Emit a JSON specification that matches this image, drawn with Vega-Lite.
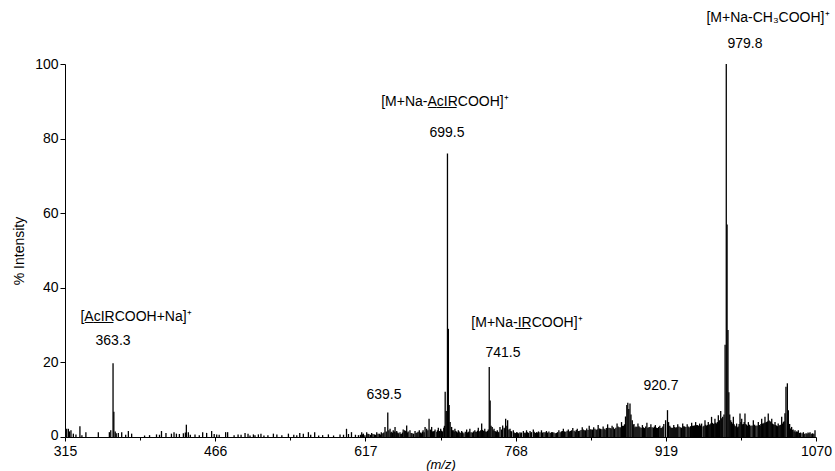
{
  "$schema": "https://vega.github.io/schema/vega-lite/v6.json",
  "width": 751,
  "height": 373,
  "autosize": {"type": "none"},
  "padding": {"left": 65, "top": 64, "right": 19, "bottom": 34},
  "background": "white",
  "config": {
    "view": {"stroke": null},
    "font": "Liberation Sans",
    "axis": {"grid": false, "domainColor": "black", "tickColor": "black", "labelColor": "black", "titleColor": "black", "labelFont": "Liberation Sans", "titleFont": "Liberation Sans", "titleFontWeight": "normal", "labelFontSize": 14, "titleFontSize": 14}
  },
  "layer": [
    {
      "data": {"values": [
        {"mz": 316.7, "intensity": 2.2}, {"mz": 318.4, "intensity": 2.2}, {"mz": 319.5, "intensity": 1.5}, {"mz": 321, "intensity": 1.8}, {"mz": 323.4, "intensity": 0.9}, {"mz": 326, "intensity": 0.7}, {"mz": 330, "intensity": 2.9}, {"mz": 332, "intensity": 0.5}, {"mz": 336, "intensity": 1.3}, {"mz": 348.5, "intensity": 1.3}, {"mz": 359.6, "intensity": 1.3}, {"mz": 361, "intensity": 1.8}, {"mz": 363.3, "intensity": 19.8}, {"mz": 364.1, "intensity": 6.8}, {"mz": 365.5, "intensity": 1.5}, {"mz": 366.5, "intensity": 1.0}, {"mz": 368.6, "intensity": 1.1}, {"mz": 372, "intensity": 1.3}, {"mz": 376, "intensity": 0.6}, {"mz": 378.7, "intensity": 1.6}, {"mz": 382, "intensity": 0.9}, {"mz": 395, "intensity": 0.4}, {"mz": 400, "intensity": 0.5}, {"mz": 407, "intensity": 0.7}, {"mz": 410, "intensity": 0.6}, {"mz": 412, "intensity": 1.6}, {"mz": 416.5, "intensity": 1.1}, {"mz": 422, "intensity": 0.9}, {"mz": 424.6, "intensity": 1.3}, {"mz": 427, "intensity": 0.9}, {"mz": 430, "intensity": 0.8}, {"mz": 434, "intensity": 1.0}, {"mz": 436, "intensity": 1.2}, {"mz": 437, "intensity": 3.3}, {"mz": 439, "intensity": 1.3}, {"mz": 441, "intensity": 0.6}, {"mz": 445.7, "intensity": 0.7}, {"mz": 450, "intensity": 0.5}, {"mz": 453.4, "intensity": 1.3}, {"mz": 457.4, "intensity": 1.1}, {"mz": 462.4, "intensity": 1.6}, {"mz": 465, "intensity": 0.8}, {"mz": 467.5, "intensity": 0.7}, {"mz": 470, "intensity": 0.6}, {"mz": 476.5, "intensity": 1.3}, {"mz": 478.5, "intensity": 1.3}, {"mz": 485, "intensity": 0.5}, {"mz": 489, "intensity": 0.7}, {"mz": 492, "intensity": 0.6}, {"mz": 496, "intensity": 1.1}, {"mz": 499, "intensity": 0.9},
        {"mz": 501, "intensity": 0.4}, {"mz": 504.4, "intensity": 0.7}, {"mz": 506, "intensity": 0.5}, {"mz": 509.4, "intensity": 0.7}, {"mz": 512, "intensity": 0.9}, {"mz": 515, "intensity": 0.4}, {"mz": 519, "intensity": 0.5}, {"mz": 524.5, "intensity": 0.9}, {"mz": 528, "intensity": 0.7}, {"mz": 533, "intensity": 0.5}, {"mz": 539.6, "intensity": 0.9}, {"mz": 545, "intensity": 0.6}, {"mz": 548, "intensity": 0.5}, {"mz": 551, "intensity": 1.1}, {"mz": 554.6, "intensity": 0.9}, {"mz": 559.7, "intensity": 1.3}, {"mz": 562, "intensity": 0.6}, {"mz": 566, "intensity": 1.3}, {"mz": 570, "intensity": 0.4}, {"mz": 574, "intensity": 0.5}, {"mz": 579.8, "intensity": 0.7}, {"mz": 585, "intensity": 0.4}, {"mz": 591.5, "intensity": 0.7}, {"mz": 595, "intensity": 0.6}, {"mz": 598, "intensity": 2.2}, {"mz": 600, "intensity": 0.8}, {"mz": 603, "intensity": 1.3}, {"mz": 607, "intensity": 0.6}, {"mz": 610, "intensity": 0.5},
        {"mz": 613.3, "intensity": 1.3}, {"mz": 615, "intensity": 0.9}, {"mz": 618.3, "intensity": 1.3}, {"mz": 620.5, "intensity": 0.8}, {"mz": 623.3, "intensity": 1.1}, {"mz": 626, "intensity": 0.7}, {"mz": 628.4, "intensity": 1.3}, {"mz": 631, "intensity": 0.9}, {"mz": 633, "intensity": 1.3}, {"mz": 634.5, "intensity": 1.0}, {"mz": 636.7, "intensity": 2.7}, {"mz": 639.5, "intensity": 6.6}, {"mz": 641.8, "intensity": 2.2}, {"mz": 643.5, "intensity": 1.4}, {"mz": 645, "intensity": 1.8}, {"mz": 646.8, "intensity": 2.7}, {"mz": 648.5, "intensity": 1.6}, {"mz": 650.5, "intensity": 1.0}, {"mz": 651.8, "intensity": 1.3}, {"mz": 653.5, "intensity": 0.9}, {"mz": 655, "intensity": 2.0}, {"mz": 656.5, "intensity": 1.8}, {"mz": 658.5, "intensity": 3.1}, {"mz": 660, "intensity": 1.5}, {"mz": 661.8, "intensity": 1.8}, {"mz": 664, "intensity": 1.0}, {"mz": 666.9, "intensity": 1.6}, {"mz": 669, "intensity": 1.2}, {"mz": 671.2, "intensity": 1.8}, {"mz": 673.5, "intensity": 1.0}, {"mz": 675, "intensity": 1.8}, {"mz": 677, "intensity": 2.7}, {"mz": 678.6, "intensity": 2.2}, {"mz": 681, "intensity": 4.9}, {"mz": 683.6, "intensity": 2.7}, {"mz": 685.5, "intensity": 1.5}, {"mz": 687, "intensity": 2.0}, {"mz": 688.8, "intensity": 1.4}, {"mz": 690.3, "intensity": 2.5}, {"mz": 692.7, "intensity": 2.2}, {"mz": 694.5, "intensity": 1.5}, {"mz": 695.8, "intensity": 2.5}, {"mz": 697.2, "intensity": 12.1}, {"mz": 698.3, "intensity": 7.0}, {"mz": 699.5, "intensity": 76}, {"mz": 700.4, "intensity": 29}, {"mz": 701.2, "intensity": 8.6}, {"mz": 702.2, "intensity": 4.0}, {"mz": 703.7, "intensity": 2.7}, {"mz": 705.3, "intensity": 1.8}, {"mz": 707, "intensity": 2.2}, {"mz": 708.7, "intensity": 1.4}, {"mz": 710.4, "intensity": 1.8}, {"mz": 712, "intensity": 1.2}, {"mz": 713.8, "intensity": 1.6}, {"mz": 716, "intensity": 1.0}, {"mz": 718.8, "intensity": 2.0}, {"mz": 720.5, "intensity": 1.3}, {"mz": 722, "intensity": 2.2}, {"mz": 724.5, "intensity": 1.2}, {"mz": 727, "intensity": 1.8}, {"mz": 729, "intensity": 1.4}, {"mz": 730.5, "intensity": 2.5}, {"mz": 732.3, "intensity": 1.6}, {"mz": 733.9, "intensity": 3.6}, {"mz": 735.5, "intensity": 1.7}, {"mz": 737, "intensity": 2.2}, {"mz": 739, "intensity": 1.4}, {"mz": 740.5, "intensity": 2.0}, {"mz": 741.5, "intensity": 18.8}, {"mz": 742.4, "intensity": 9.8}, {"mz": 743.3, "intensity": 3.0}, {"mz": 744.5, "intensity": 2.7}, {"mz": 746.3, "intensity": 2.2}, {"mz": 748, "intensity": 1.5}, {"mz": 749.6, "intensity": 1.8}, {"mz": 751, "intensity": 1.3}, {"mz": 752.3, "intensity": 2.7}, {"mz": 753.8, "intensity": 2.0}, {"mz": 755, "intensity": 3.1}, {"mz": 756.5, "intensity": 2.5}, {"mz": 758, "intensity": 4.9}, {"mz": 759.2, "intensity": 3.0}, {"mz": 760, "intensity": 4.5}, {"mz": 761.3, "intensity": 2.0}, {"mz": 762.4, "intensity": 2.2}, {"mz": 764, "intensity": 1.5}, {"mz": 765.7, "intensity": 1.8}, {"mz": 767.5, "intensity": 1.0}, {"mz": 769, "intensity": 1.3}, {"mz": 771, "intensity": 1.0}, {"mz": 772.4, "intensity": 1.3}, {"mz": 774, "intensity": 1.2}, {"mz": 775.8, "intensity": 1.6}, {"mz": 777.5, "intensity": 1.2}, {"mz": 779, "intensity": 1.8}, {"mz": 781, "intensity": 1.1}, {"mz": 782.5, "intensity": 1.6}, {"mz": 784, "intensity": 1.3}, {"mz": 785.8, "intensity": 2.0}, {"mz": 787.5, "intensity": 1.1}, {"mz": 789, "intensity": 1.3}, {"mz": 791, "intensity": 1.5}, {"mz": 794, "intensity": 1.8}, {"mz": 796.5, "intensity": 1.3}, {"mz": 799, "intensity": 1.6}, {"mz": 801.5, "intensity": 1.5}, {"mz": 804, "intensity": 1.3}, {"mz": 806.5, "intensity": 1.2}, {"mz": 809, "intensity": 1.1},
        {"mz": 612, "intensity": 0.6}, {"mz": 614.2, "intensity": 0.7}, {"mz": 616.5, "intensity": 0.5}, {"mz": 619.5, "intensity": 0.9}, {"mz": 622, "intensity": 0.6}, {"mz": 624.6, "intensity": 0.8}, {"mz": 627.2, "intensity": 0.6}, {"mz": 629.7, "intensity": 0.9}, {"mz": 632, "intensity": 0.7}, {"mz": 635.5, "intensity": 1.2}, {"mz": 638, "intensity": 1.5}, {"mz": 640.6, "intensity": 1.8}, {"mz": 642.6, "intensity": 1.2}, {"mz": 644.2, "intensity": 1.1}, {"mz": 646, "intensity": 1.5}, {"mz": 647.7, "intensity": 1.3}, {"mz": 649.5, "intensity": 1.2}, {"mz": 652.6, "intensity": 0.8}, {"mz": 654.3, "intensity": 1.2}, {"mz": 657.5, "intensity": 1.6}, {"mz": 659.3, "intensity": 1.2}, {"mz": 663, "intensity": 1.1}, {"mz": 665.5, "intensity": 0.9}, {"mz": 668, "intensity": 1.1}, {"mz": 670, "intensity": 1.4}, {"mz": 672.4, "intensity": 1.2}, {"mz": 674.3, "intensity": 1.4}, {"mz": 676, "intensity": 1.3}, {"mz": 679.8, "intensity": 1.8}, {"mz": 682.3, "intensity": 2.0}, {"mz": 684.6, "intensity": 1.5}, {"mz": 686.2, "intensity": 1.6}, {"mz": 689.5, "intensity": 1.8}, {"mz": 691.5, "intensity": 1.6}, {"mz": 693.6, "intensity": 1.7}, {"mz": 696.5, "intensity": 3.0},
        {"mz": 704.5, "intensity": 1.8}, {"mz": 706.2, "intensity": 1.4}, {"mz": 707.9, "intensity": 1.6}, {"mz": 709.5, "intensity": 1.2}, {"mz": 711.2, "intensity": 1.5}, {"mz": 713, "intensity": 1.1}, {"mz": 714.8, "intensity": 1.3}, {"mz": 717.4, "intensity": 1.4}, {"mz": 719.7, "intensity": 1.2}, {"mz": 721.2, "intensity": 1.5}, {"mz": 723.2, "intensity": 1.3}, {"mz": 725.7, "intensity": 1.5}, {"mz": 728, "intensity": 1.4}, {"mz": 729.8, "intensity": 1.7}, {"mz": 731.4, "intensity": 1.5}, {"mz": 733, "intensity": 1.8}, {"mz": 734.7, "intensity": 1.9}, {"mz": 736.2, "intensity": 1.6}, {"mz": 738, "intensity": 1.5}, {"mz": 739.8, "intensity": 1.6}, {"mz": 745.4, "intensity": 1.8}, {"mz": 747.2, "intensity": 1.6}, {"mz": 748.8, "intensity": 1.4}, {"mz": 750.3, "intensity": 1.4}, {"mz": 754.4, "intensity": 1.8}, {"mz": 757.2, "intensity": 2.2}, {"mz": 763.2, "intensity": 1.6}, {"mz": 766.6, "intensity": 1.2}, {"mz": 768.2, "intensity": 1.1}, {"mz": 770, "intensity": 1.2}, {"mz": 773.2, "intensity": 1.0}, {"mz": 776.6, "intensity": 1.1}, {"mz": 778.2, "intensity": 1.0}, {"mz": 780, "intensity": 1.3}, {"mz": 783.3, "intensity": 1.2}, {"mz": 786.7, "intensity": 1.4}, {"mz": 788.2, "intensity": 1.1}, {"mz": 790, "intensity": 1.2}, {"mz": 792.5, "intensity": 1.3}, {"mz": 795.2, "intensity": 1.2}, {"mz": 797.8, "intensity": 1.3}, {"mz": 800.2, "intensity": 1.2}, {"mz": 802.8, "intensity": 1.1}, {"mz": 805.2, "intensity": 1.3}, {"mz": 807.8, "intensity": 1.0}, {"mz": 810.2, "intensity": 1.3},
        {"mz": 811.5, "intensity": 1.8}, {"mz": 814, "intensity": 1.5}, {"mz": 816, "intensity": 2.2}, {"mz": 818.5, "intensity": 1.4}, {"mz": 821, "intensity": 2.0}, {"mz": 823, "intensity": 1.6}, {"mz": 825.5, "intensity": 2.4}, {"mz": 828, "intensity": 1.5}, {"mz": 830, "intensity": 2.2}, {"mz": 832.5, "intensity": 1.7}, {"mz": 835, "intensity": 2.6}, {"mz": 837, "intensity": 1.8}, {"mz": 839.5, "intensity": 2.3}, {"mz": 842, "intensity": 3.0}, {"mz": 844, "intensity": 2.0}, {"mz": 846.5, "intensity": 2.6}, {"mz": 849, "intensity": 1.9}, {"mz": 851, "intensity": 3.2}, {"mz": 853.5, "intensity": 2.2}, {"mz": 856, "intensity": 2.8}, {"mz": 858, "intensity": 2.0}, {"mz": 860.5, "intensity": 3.4}, {"mz": 863, "intensity": 2.4}, {"mz": 865, "intensity": 3.0}, {"mz": 867.5, "intensity": 2.2}, {"mz": 870, "intensity": 3.6}, {"mz": 872, "intensity": 2.6}, {"mz": 874.5, "intensity": 4.0}, {"mz": 876.5, "intensity": 3.0}, {"mz": 878.5, "intensity": 5.5}, {"mz": 879.8, "intensity": 8.6}, {"mz": 880.8, "intensity": 9.2}, {"mz": 881.8, "intensity": 7.5}, {"mz": 883, "intensity": 9.0}, {"mz": 884, "intensity": 6.0}, {"mz": 885.3, "intensity": 4.5}, {"mz": 887, "intensity": 3.5}, {"mz": 889, "intensity": 2.8}, {"mz": 891, "intensity": 3.6}, {"mz": 893, "intensity": 2.6}, {"mz": 895.5, "intensity": 3.2}, {"mz": 897.5, "intensity": 2.4}, {"mz": 900, "intensity": 3.8}, {"mz": 902, "intensity": 2.6}, {"mz": 904, "intensity": 3.4}, {"mz": 906.5, "intensity": 2.5}, {"mz": 908.5, "intensity": 3.2}, {"mz": 910.5, "intensity": 2.4}, {"mz": 913, "intensity": 3.0}, {"mz": 915, "intensity": 2.5}, {"mz": 917, "intensity": 3.5}, {"mz": 918.8, "intensity": 4.5}, {"mz": 920.7, "intensity": 7.2}, {"mz": 921.8, "intensity": 4.0}, {"mz": 923, "intensity": 3.0}, {"mz": 925, "intensity": 2.4}, {"mz": 927, "intensity": 3.2}, {"mz": 929, "intensity": 2.5}, {"mz": 931, "intensity": 3.4}, {"mz": 933.5, "intensity": 2.6}, {"mz": 936, "intensity": 3.6}, {"mz": 938, "intensity": 2.8}, {"mz": 940.5, "intensity": 3.4}, {"mz": 942.5, "intensity": 2.6}, {"mz": 945, "intensity": 3.8}, {"mz": 947, "intensity": 3.0}, {"mz": 949, "intensity": 4.0}, {"mz": 951, "intensity": 3.2}, {"mz": 953, "intensity": 3.6},
        {"mz": 812.8, "intensity": 1.3}, {"mz": 815, "intensity": 1.6}, {"mz": 817.2, "intensity": 1.5}, {"mz": 819.8, "intensity": 1.7}, {"mz": 822, "intensity": 1.5}, {"mz": 824.2, "intensity": 1.8}, {"mz": 826.8, "intensity": 1.7}, {"mz": 829, "intensity": 1.9}, {"mz": 831.2, "intensity": 1.6}, {"mz": 833.8, "intensity": 1.9}, {"mz": 836, "intensity": 2.0}, {"mz": 838.2, "intensity": 1.8}, {"mz": 840.8, "intensity": 1.9}, {"mz": 843, "intensity": 2.1}, {"mz": 845.2, "intensity": 2.0}, {"mz": 847.8, "intensity": 2.2}, {"mz": 850, "intensity": 2.1}, {"mz": 852.2, "intensity": 2.3}, {"mz": 854.8, "intensity": 2.1}, {"mz": 857, "intensity": 2.2}, {"mz": 859.2, "intensity": 2.4}, {"mz": 861.8, "intensity": 2.5}, {"mz": 864, "intensity": 2.3}, {"mz": 866.2, "intensity": 2.6}, {"mz": 868.8, "intensity": 2.5}, {"mz": 871, "intensity": 2.8}, {"mz": 873.2, "intensity": 2.6}, {"mz": 875.5, "intensity": 3.0}, {"mz": 877.5, "intensity": 3.4}, {"mz": 886.2, "intensity": 3.3}, {"mz": 888, "intensity": 2.6}, {"mz": 890, "intensity": 2.7}, {"mz": 892, "intensity": 2.9}, {"mz": 894.2, "intensity": 2.5}, {"mz": 896.5, "intensity": 2.6}, {"mz": 898.8, "intensity": 2.8}, {"mz": 901, "intensity": 2.5}, {"mz": 903, "intensity": 2.7}, {"mz": 905.2, "intensity": 2.6}, {"mz": 907.5, "intensity": 2.8}, {"mz": 909.5, "intensity": 2.5}, {"mz": 911.8, "intensity": 2.7}, {"mz": 914, "intensity": 2.4}, {"mz": 916, "intensity": 2.8}, {"mz": 924, "intensity": 2.6}, {"mz": 926, "intensity": 2.5}, {"mz": 928, "intensity": 2.7}, {"mz": 930, "intensity": 2.6}, {"mz": 932.2, "intensity": 2.8}, {"mz": 934.8, "intensity": 2.5}, {"mz": 937, "intensity": 2.9}, {"mz": 939.2, "intensity": 2.7}, {"mz": 941.5, "intensity": 2.8}, {"mz": 943.8, "intensity": 2.9}, {"mz": 946, "intensity": 3.0}, {"mz": 948, "intensity": 3.1}, {"mz": 950, "intensity": 3.2}, {"mz": 952, "intensity": 3.0}, {"mz": 954, "intensity": 3.1},
        {"mz": 955, "intensity": 3.6}, {"mz": 956.5, "intensity": 2.8}, {"mz": 958.4, "intensity": 4.5}, {"mz": 960, "intensity": 3.0}, {"mz": 961.7, "intensity": 4.0}, {"mz": 963.3, "intensity": 3.2}, {"mz": 965, "intensity": 5.4}, {"mz": 966.8, "intensity": 3.5}, {"mz": 968.4, "intensity": 4.9}, {"mz": 970, "intensity": 3.6}, {"mz": 971.8, "intensity": 5.8}, {"mz": 973, "intensity": 4.5}, {"mz": 974.2, "intensity": 7.0}, {"mz": 975.2, "intensity": 5.0}, {"mz": 976.2, "intensity": 5.4}, {"mz": 977.5, "intensity": 6.0}, {"mz": 978.6, "intensity": 24.7}, {"mz": 979.8, "intensity": 100}, {"mz": 980.6, "intensity": 57}, {"mz": 981.5, "intensity": 28.7}, {"mz": 982.4, "intensity": 12}, {"mz": 983.3, "intensity": 6}, {"mz": 984.3, "intensity": 4.5}, {"mz": 985.2, "intensity": 4.0}, {"mz": 986.9, "intensity": 5.4}, {"mz": 988.5, "intensity": 3.0}, {"mz": 990.2, "intensity": 3.6}, {"mz": 991.8, "intensity": 2.8}, {"mz": 993.6, "intensity": 6.3}, {"mz": 995.3, "intensity": 4.9}, {"mz": 997, "intensity": 3.5}, {"mz": 998.6, "intensity": 6.3}, {"mz": 1000.3, "intensity": 3.2}, {"mz": 1002, "intensity": 4.0}, {"mz": 1004.5, "intensity": 3.0}, {"mz": 1007, "intensity": 4.5}, {"mz": 1009.5, "intensity": 3.0}, {"mz": 1012, "intensity": 4.0}, {"mz": 1013.8, "intensity": 3.0}, {"mz": 1015.4, "intensity": 4.9}, {"mz": 1017, "intensity": 3.6}, {"mz": 1018.7, "intensity": 5.4}, {"mz": 1020.3, "intensity": 4.0}, {"mz": 1022, "intensity": 6.3}, {"mz": 1023.8, "intensity": 4.2}, {"mz": 1025.5, "intensity": 4.9}, {"mz": 1027, "intensity": 3.4}, {"mz": 1028.8, "intensity": 4.0}, {"mz": 1030.4, "intensity": 3.0}, {"mz": 1032, "intensity": 3.6}, {"mz": 1033.8, "intensity": 3.2}, {"mz": 1035.5, "intensity": 5.4}, {"mz": 1037.2, "intensity": 4.0}, {"mz": 1038.8, "intensity": 6.4}, {"mz": 1039.8, "intensity": 13.5}, {"mz": 1041.2, "intensity": 14.4}, {"mz": 1042.2, "intensity": 7.2}, {"mz": 1043.5, "intensity": 3.5}, {"mz": 1045.5, "intensity": 2.7}, {"mz": 1047, "intensity": 2.0}, {"mz": 1048.9, "intensity": 1.8}, {"mz": 1050.5, "intensity": 1.5}, {"mz": 1052.2, "intensity": 1.8}, {"mz": 1054.5, "intensity": 1.2}, {"mz": 1057.3, "intensity": 1.3}, {"mz": 1060, "intensity": 1.0}, {"mz": 1062, "intensity": 1.2}, {"mz": 1064, "intensity": 1.3}, {"mz": 1066.5, "intensity": 1.0}, {"mz": 1069, "intensity": 1.8},
        {"mz": 957.4, "intensity": 3.0}, {"mz": 959.2, "intensity": 3.3}, {"mz": 960.9, "intensity": 3.2}, {"mz": 962.5, "intensity": 3.4}, {"mz": 964.2, "intensity": 3.6}, {"mz": 965.9, "intensity": 3.8}, {"mz": 967.6, "intensity": 3.6}, {"mz": 969.2, "intensity": 3.8}, {"mz": 970.9, "intensity": 4.0}, {"mz": 972.4, "intensity": 4.2}, {"mz": 984.8, "intensity": 3.5}, {"mz": 986, "intensity": 3.6}, {"mz": 987.7, "intensity": 3.4}, {"mz": 989.4, "intensity": 2.8}, {"mz": 991, "intensity": 2.6}, {"mz": 992.7, "intensity": 3.5}, {"mz": 994.5, "intensity": 4.0}, {"mz": 996.2, "intensity": 3.4}, {"mz": 997.8, "intensity": 4.0}, {"mz": 999.5, "intensity": 3.5}, {"mz": 1001.2, "intensity": 3.0}, {"mz": 1003.2, "intensity": 3.3}, {"mz": 1005.8, "intensity": 3.1}, {"mz": 1008.3, "intensity": 3.3}, {"mz": 1010.8, "intensity": 3.1}, {"mz": 1013, "intensity": 3.2}, {"mz": 1014.6, "intensity": 3.5}, {"mz": 1016.2, "intensity": 3.6}, {"mz": 1017.9, "intensity": 3.8}, {"mz": 1019.5, "intensity": 3.9}, {"mz": 1021.2, "intensity": 4.2}, {"mz": 1022.9, "intensity": 4.4}, {"mz": 1024.6, "intensity": 4.0}, {"mz": 1026.2, "intensity": 3.6}, {"mz": 1027.9, "intensity": 3.3}, {"mz": 1029.6, "intensity": 3.2}, {"mz": 1031.2, "intensity": 2.9}, {"mz": 1032.9, "intensity": 3.0}, {"mz": 1034.6, "intensity": 3.3}, {"mz": 1036.4, "intensity": 3.6}, {"mz": 1038, "intensity": 4.2}, {"mz": 1044.5, "intensity": 2.3}, {"mz": 1046.2, "intensity": 1.9}, {"mz": 1048, "intensity": 1.5}, {"mz": 1049.7, "intensity": 1.3}, {"mz": 1051.3, "intensity": 1.4}, {"mz": 1053.3, "intensity": 1.1}, {"mz": 1056, "intensity": 1.0}, {"mz": 1058.7, "intensity": 0.9}, {"mz": 1061, "intensity": 0.9}, {"mz": 1063, "intensity": 1.0}, {"mz": 1065.2, "intensity": 0.9}, {"mz": 1067.8, "intensity": 0.9}
      ]},
      "mark": {"type": "rule", "color": "black", "strokeWidth": 1.3},
      "encoding": {
        "x": {
          "field": "mz", "type": "quantitative",
          "scale": {"domain": [315, 1070], "nice": false, "zero": false},
          "axis": {
            "title": "(m/z)", "titleFontStyle": "italic", "titleFontSize": 13, "titlePadding": 0,
            "values": [315, 390.5, 466, 541.5, 617, 692.5, 768, 843.5, 919, 994.5, 1070],
            "format": "d",
            "labelExpr": "indexof([315,466,617,768,919,1070], datum.value) >= 0 ? datum.label : ''",
            "labelFlush": false, "labelOverlap": false, "labelPadding": 3,
            "tickSize": {"condition": {"test": "indexof([315,466,617,768,919,1070], datum.value) >= 0", "value": 4}, "value": 3}
          }
        },
        "y": {
          "field": "intensity", "type": "quantitative",
          "scale": {"domain": [0, 100], "nice": false},
          "axis": {
            "title": "% Intensity", "titlePadding": 8,
            "values": [0, 5, 10, 15, 20, 25, 30, 35, 40, 45, 50, 55, 60, 65, 70, 75, 80, 85, 90, 95, 100],
            "labelExpr": "datum.value % 20 === 0 ? datum.label : ''",
            "labelOverlap": false, "labelPadding": 2,
            "labelOffset": {"condition": {"test": "datum.value === 0", "value": -2}, "value": 0},
            "tickSize": {"condition": {"test": "datum.value % 20 === 0", "value": 5}, "value": 3}
          }
        },
        "y2": {"datum": 0}
      }
    },
    {
      "data": {"values": [
        {"label": "[M+Na-CH₃COOH]⁺", "mz": 1021.7, "intensity": 112.3},
        {"label": "979.8", "mz": 998.6, "intensity": 105.3},
        {"label": "[M+Na-A̲c̲I̲R̲COOH]⁺", "mz": 697, "intensity": 89.8},
        {"label": "699.5", "mz": 699, "intensity": 81.5},
        {"label": "[M+Na-I̲R̲COOH]⁺", "mz": 779.4, "intensity": 30.5},
        {"label": "741.5", "mz": 755.3, "intensity": 22.5},
        {"label": "[A̲c̲I̲R̲COOH+Na]⁺", "mz": 386.4, "intensity": 32.2},
        {"label": "363.3", "mz": 363.3, "intensity": 25.7},
        {"label": "639.5", "mz": 635.7, "intensity": 11.3},
        {"label": "920.7", "mz": 914.2, "intensity": 13.7}
      ]},
      "mark": {"type": "text", "fontSize": 14, "font": "Liberation Sans", "color": "black", "align": "center", "baseline": "middle"},
      "encoding": {
        "x": {"field": "mz", "type": "quantitative"},
        "y": {"field": "intensity", "type": "quantitative"},
        "text": {"field": "label"}
      }
    }
  ]
}
